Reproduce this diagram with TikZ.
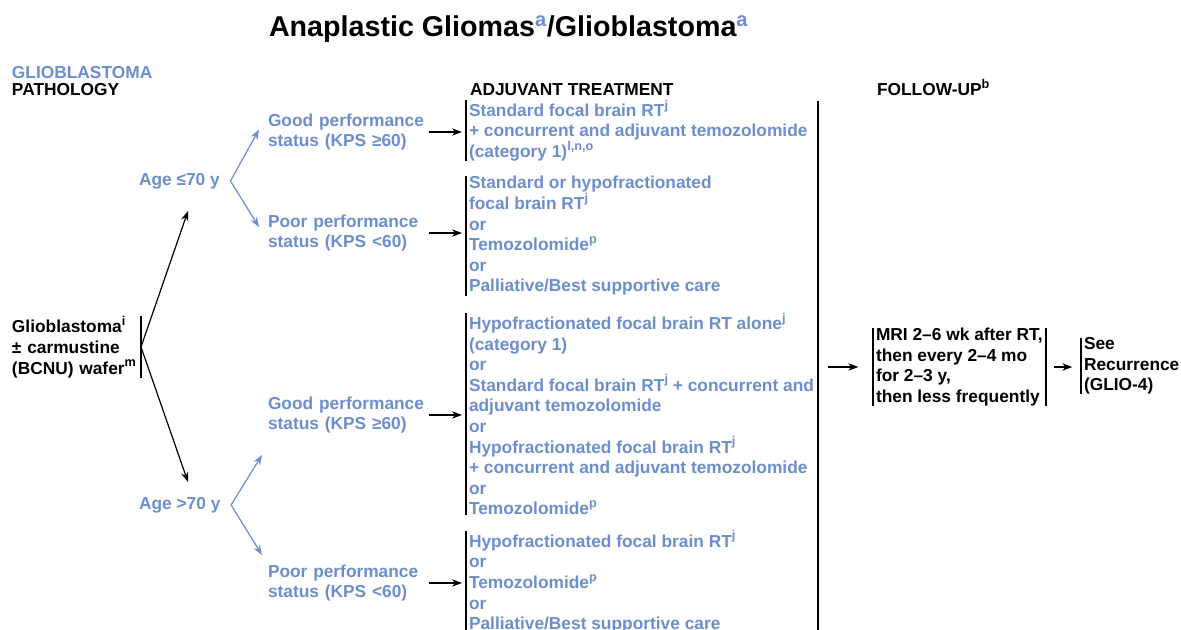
\documentclass[tikz,border=0pt]{standalone}
\usepackage{fontspec}
\setmainfont{Liberation Sans}
\usetikzlibrary{arrows.meta}
\definecolor{c6c8ece}{RGB}{108,142,206}
\newcommand{\sups}[1]{\raisebox{0.42em}{\fontsize{9.5}{10}\selectfont #1}}

\begin{document}
\begin{tikzpicture}[y=-0.75pt,x=0.75pt, inner sep=0pt, outer sep=0pt,
  every node/.style={font=\fontsize{13}{15.45}\selectfont\bfseries, align=left},
  pstat/.style={anchor=west, text=c6c8ece, text width=118pt},
  treat/.style={anchor=west, text=c6c8ece, inner xsep=2.25pt},
  barline/.style={line width=1.4pt},
  blkarrow/.style={draw=black, line width=0.9pt, -{Stealth[length=7.5pt,width=5.5pt]}},
  bluarrow/.style={draw=c6c8ece, line width=0.9pt, -{Stealth[length=7.5pt,width=5.5pt]}}]
  \useasboundingbox (0,0) rectangle (1181,630);

  \path (269,37) node[anchor=base west, font=\fontsize{21.5}{26}\selectfont\bfseries] (title)
    {Anaplastic Gliomas\textsuperscript{\color{c6c8ece}a}/Glioblastoma\textsuperscript{\color{c6c8ece}a}};
  \path (12,79) node[anchor=base west, text=c6c8ece] (headGbm) {GLIOBLASTOMA};
  \path (12,96) node[anchor=base west] (headPath) {PATHOLOGY};
  \path (470,96) node[anchor=base west] (headAdj) {ADJUVANT TREATMENT};
  \path (877,96) node[anchor=base west] (headFup) {FOLLOW-UP\sups{b}};

  \path (9,347) node[anchor=west, inner xsep=2.25pt, text width=94.5pt] (gbm)
    {Glioblastoma\sups{i}\\± carmustine\\(BCNU) wafer\sups{m}};
  \path (139,181) node[anchor=west, text=c6c8ece] (ageA) {Age ≤70 y};
  \path (139,505) node[anchor=west, text=c6c8ece] (ageB) {Age >70 y};

  \path (268,132) node[pstat] (goodA) {Good performance\\status (KPS ≥60)};
  \path (268,233) node[pstat] (poorA) {Poor performance\\status (KPS <60)};
  \path (268,415) node[pstat] (goodB) {Good performance\\status (KPS ≥60)};
  \path (268,583) node[pstat] (poorB) {Poor performance\\status (KPS <60)};

  \path (466,130.5) node[treat] (adjA) {Standard focal brain RT\sups{j}\\+ concurrent and adjuvant temozolomide\\(category 1)\sups{l,n,o}};
  \path (466,236) node[treat] (adjB) {Standard or hypofractionated\\focal brain RT\sups{j}\\or\\Temozolomide\sups{p}\\or\\Palliative/Best supportive care};
  \path (466,414) node[treat] (adjC) {Hypofractionated focal brain RT alone\sups{j}\\(category 1)\\or\\Standard focal brain RT\sups{j} + concurrent and\\adjuvant temozolomide\\or\\Hypofractionated focal brain RT\sups{j}\\+ concurrent and adjuvant temozolomide\\or\\Temozolomide\sups{p}};
  \path (466,582) node[treat] (adjD) {Hypofractionated focal brain RT\sups{j}\\or\\Temozolomide\sups{p}\\or\\Palliative/Best supportive care};

  \path (873,367) node[anchor=west, inner xsep=2.25pt] (mri) {MRI 2–6 wk after RT,\\then every 2–4 mo\\for 2–3 y,\\then less frequently};
  \path (1081,366) node[anchor=west, inner xsep=2.25pt] (recur) {See\\Recurrence\\(GLIO-4)};

  \draw[barline] (gbm.north east) -- (gbm.south east);
  \foreach \n in {adjA,adjB,adjC,adjD,mri,recur}
    \draw[barline] (\n.north west) -- (\n.south west);
  \draw[barline] (mri.north east) -- (mri.south east);
  \coordinate (sepTop) at (818,101);
  \coordinate (sepBot) at (818,632);
  \draw[barline] (sepTop) -- (sepBot);

  \coordinate (ageAin) at (188,211);
  \coordinate (ageBin) at (188,482);
  \draw[blkarrow] (gbm.east) -- (ageAin);
  \draw[blkarrow] (gbm.east) -- (ageBin);

  \coordinate (forkA) at ([xshift=8pt]ageA.east);
  \coordinate (forkB) at ([xshift=8pt]ageB.east);
  \draw[bluarrow] (forkA) -- ([shift={(-6.75pt,1.9pt)}]goodA.west);
  \draw[bluarrow] (forkA) -- ([shift={(-6.75pt,4.5pt)}]poorA.west);
  \draw[bluarrow] (forkB) -- ([shift={(-4.5pt,-30pt)}]goodB.west);
  \draw[bluarrow] (forkB) -- ([shift={(-4.5pt,21pt)}]poorB.west);

  \foreach \s/\t in {goodA/adjA, poorA/adjB, goodB/adjC, poorB/adjD}
    \draw[blkarrow, shorten <=3pt, shorten >=3pt] (\s.east) -- (\s.east -| \t.west);
  \draw[blkarrow, shorten <=7.5pt, shorten >=11pt] (sepTop |- mri.west) -- (mri.west);
  \draw[blkarrow, shorten <=6pt, shorten >=6.5pt] (mri.east) -- (mri.east -| recur.west);

\end{tikzpicture}
\end{document}
